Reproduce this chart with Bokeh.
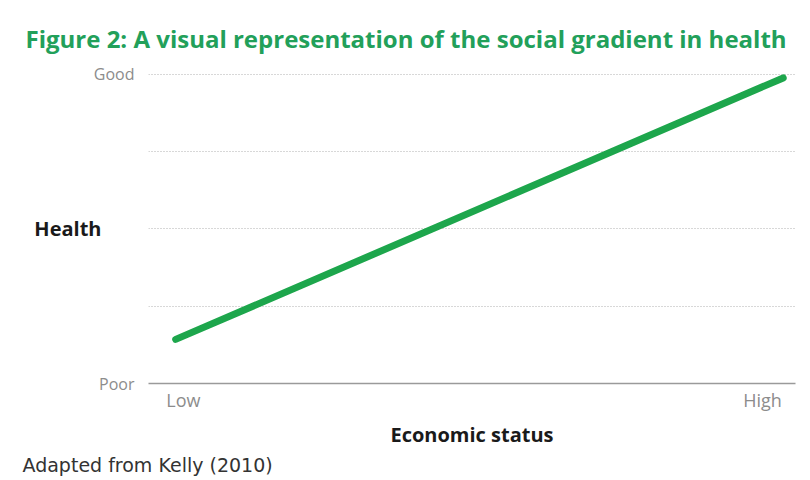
from bokeh.plotting import figure
from bokeh.models import Range1d, FixedTicker, LinearAxis, Title
from bokeh.embed import file_html
from bokeh.resources import INLINE

# Data
status_x = [4.2, 98.1]          # economic status (Low -> High)
health_y = [0.57, 3.95]         # health (Poor -> Good)
x_tick_pos = [5.4, 94.9]
x_tick_labels = ["Low", "High"]
y_tick_pos = [0, 4]
y_tick_labels = ["Poor", "Good"]
health_label_pos = [2]
grid_levels = [0, 1, 2, 3, 4]

FONT = "Open Sans"

p = figure(width=810, height=480, output_backend="svg", toolbar_location=None,
           x_range=Range1d(0, 100), y_range=Range1d(0, 4.02),
           min_border_left=148, min_border_right=15,
           min_border_top=72, min_border_bottom=97)
p.outline_line_color = None
p.background_fill_color = "white"
p.border_fill_color = "white"

p.line(status_x, health_y, line_color="#1DA64C", line_width=7, line_cap="round")

# Title
p.title.text = "Figure 2: A visual representation of the social gradient in health"
p.title.text_font = FONT
p.title.text_font_size = "24px"
p.title.text_font_style = "bold"
p.title.text_color = "#22A05A"
p.title.align = "left"
p.title.vertical_align = "top"
p.title.offset = -123
p.title.standoff = 31

# x axis
xa = p.xaxis[0]
xa.ticker = FixedTicker(ticks=x_tick_pos)
xa.major_label_overrides = {x_tick_pos[i]: x_tick_labels[i] for i in range(2)}
xa.major_tick_line_color = None
xa.major_tick_out = 0
xa.minor_tick_line_color = None
xa.axis_line_color = "#9a9a9a"
xa.axis_line_width = 1.5
xa.major_label_text_font = FONT
xa.major_label_text_font_size = "18px"
xa.major_label_text_color = "#8c8c8c"
xa.major_label_standoff = 4
xa.axis_label = "Economic status"
xa.axis_label_text_font = FONT
xa.axis_label_text_font_size = "20px"
xa.axis_label_text_font_style = "bold"
xa.axis_label_text_color = "#1a1a1a"
xa.axis_label_standoff = 6

# y axis
ya = p.yaxis[0]
ya.ticker = FixedTicker(ticks=y_tick_pos)
ya.major_label_overrides = {y_tick_pos[i]: y_tick_labels[i] for i in range(2)}
ya.major_tick_line_color = None
ya.major_tick_out = 0
ya.minor_tick_line_color = None
ya.axis_line_color = None
ya.major_label_text_font = FONT
ya.major_label_text_font_size = "16px"
ya.major_label_text_color = "#8c8c8c"
ya.major_label_standoff = 14

# "Health" label as a second left axis
ha = LinearAxis(ticker=FixedTicker(ticks=health_label_pos),
                major_label_overrides={health_label_pos[0]: "Health"})
ha.major_tick_line_color = None
ha.major_tick_out = 0
ha.minor_tick_line_color = None
ha.axis_line_color = None
ha.major_label_text_font = FONT
ha.major_label_text_font_size = "20px"
ha.major_label_text_font_style = "bold"
ha.major_label_text_color = "#1a1a1a"
ha.major_label_standoff = -11
p.add_layout(ha, "left")

p.xgrid.grid_line_color = None
p.ygrid.ticker = FixedTicker(ticks=grid_levels[1:])
p.ygrid.grid_line_color = "#b0b0b0"
p.ygrid.grid_line_dash = "1 2"
p.ygrid.grid_line_width = 1

# Source note
src = Title(text="Adapted from Kelly (2010)", align="left", offset=-126,
            text_font="DejaVu Sans", text_font_size="19px", text_font_style="normal",
            text_color="#333333", standoff=2)
p.add_layout(src, "below")

open("out.html", "w").write(file_html(p, INLINE))
